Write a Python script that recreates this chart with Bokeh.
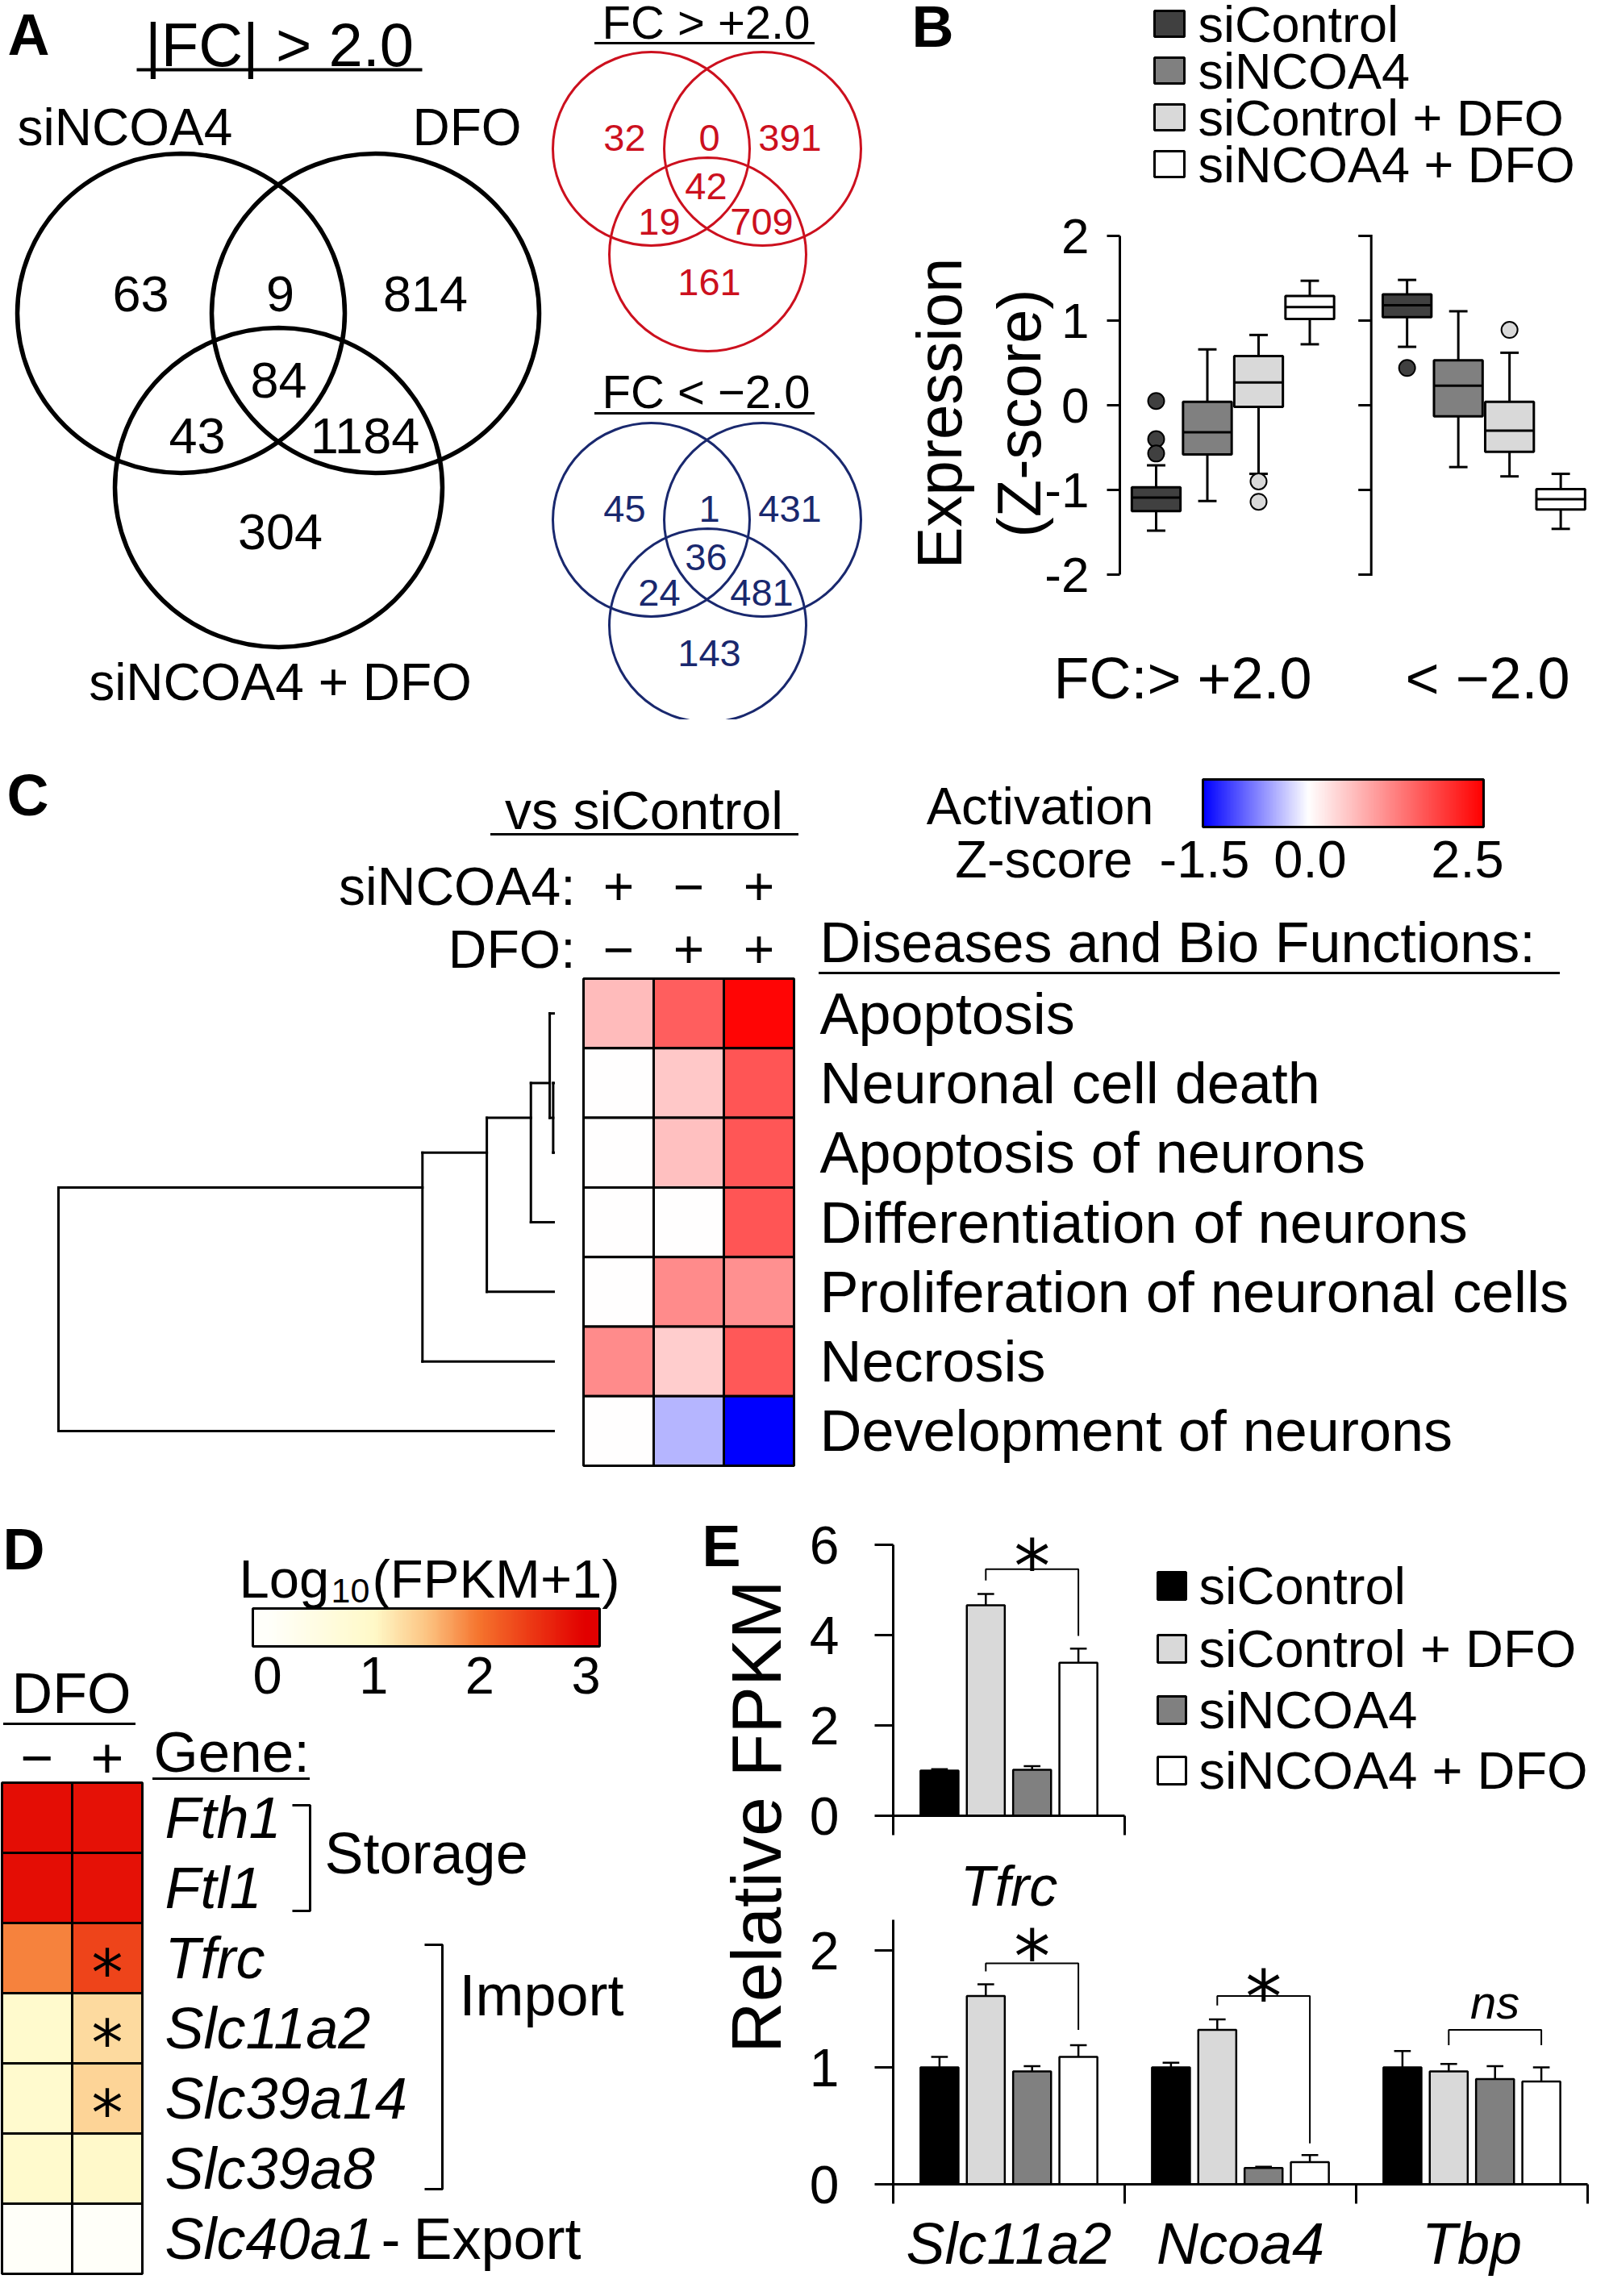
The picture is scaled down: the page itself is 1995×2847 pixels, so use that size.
import numpy as np
from bokeh.plotting import figure
from bokeh.layouts import row, column
from bokeh.models import Range1d, LinearAxis, FixedTicker, LinearColorMapper, ColumnDataSource
from bokeh.core.properties import value
from bokeh.transform import transform
from bokeh.embed import file_html
from bokeh.resources import INLINE

FONT = "Liberation Sans"
STAR_FONT = "DejaVu Sans"
MINUS = "\u2212"

# ======================= DATA =======================
venn_labels = ["siNCOA4", "DFO", "siNCOA4 + DFO"]
# region order: set1 only, 1&2, set2 only, 1&2&3, 1&3, 2&3, set3 only
venn_all = [63, 9, 814, 84, 43, 1184, 304]
venn_up = [32, 0, 391, 42, 19, 709, 161]
venn_down = [45, 1, 431, 36, 24, 481, 143]

b_groups = ["FC:> +2.0", "< " + MINUS + "2.0"]
b_conditions = ["siControl", "siNCOA4", "siControl + DFO", "siNCOA4 + DFO"]
b_colors = ["#404040", "#808080", "#d9d9d9", "#ffffff"]
b_whisker_lo = [-1.48, -1.13, -0.81, 0.72, 0.69, -0.73, -0.84, -1.46]
b_q1 = [-1.25, -0.58, -0.02, 1.02, 1.04, -0.13, -0.55, -1.23]
b_median = [-1.09, -0.32, 0.27, 1.16, 1.18, 0.23, -0.30, -1.11]
b_q3 = [-0.97, 0.04, 0.58, 1.29, 1.31, 0.53, 0.04, -0.99]
b_whisker_hi = [-0.71, 0.66, 0.83, 1.47, 1.48, 1.11, 0.62, -0.81]
b_outlier_box = [0, 0, 0, 2, 2, 4, 6]
b_outlier_value = [0.05, -0.40, -0.57, -0.90, -1.14, 0.44, 0.89]
b_yticks = [-2, -1, 0, 1, 2]

c_terms = ["Apoptosis", "Neuronal cell death", "Apoptosis of neurons",
           "Differentiation of neurons", "Proliferation of neuronal cells",
           "Necrosis", "Development of neurons"]
c_sincoa4 = ["+", MINUS, "+"]
c_dfo = [MINUS, "+", "+"]
c_zscore = [
    [0.66, 1.57, 2.45],
    [0.00, 0.54, 1.67],
    [0.00, 0.62, 1.65],
    [0.00, 0.00, 1.67],
    [0.00, 1.13, 1.08],
    [1.13, 0.49, 1.64],
    [0.00, -0.43, -1.50],
]
c_dendro_pairs = [(1, 2), (0, 7), (8, 3), (9, 4), (10, 5), (11, 6)]
c_dendro_height = [0.001, 0.008, 0.046, 0.135, 0.265, 1.0]
c_cbar_ticks = ["-1.5", "0.0", "2.5"]

d_genes = ["Fth1", "Ftl1", "Tfrc", "Slc11a2", "Slc39a14", "Slc39a8", "Slc40a1"]
d_dfo_minus = [2.88, 2.88, 1.90, 0.90, 0.88, 0.90, 0.02]
d_dfo_plus = [2.84, 2.84, 2.38, 1.30, 1.35, 0.95, 0.02]
d_significant = [False, False, True, True, True, False, False]
d_cbar_ticks = [0, 1, 2, 3]

e_conditions = ["siControl", "siControl + DFO", "siNCOA4", "siNCOA4 + DFO"]
e_colors = ["#000000", "#d9d9d9", "#808080", "#ffffff"]
e_top_genes = ["Tfrc"]
e_top_mean = [[1.00, 4.66, 1.02, 3.39]]
e_top_err = [[0.03, 0.25, 0.08, 0.31]]
e_bot_genes = ["Slc11a2", "Ncoa4", "Tbp"]
e_bot_mean = [[1.00, 1.61, 0.965, 1.09], [1.00, 1.32, 0.14, 0.19], [1.00, 0.965, 0.90, 0.88]]
e_bot_err = [[0.09, 0.10, 0.045, 0.10], [0.04, 0.09, 0.01, 0.06], [0.14, 0.065, 0.11, 0.12]]
# bracket between siControl+DFO and siNCOA4+DFO: (top, left leg end, right leg end, label, label y)
e_top_sig = [(5.46, 5.21, 3.98, "*", 5.88)]
e_bot_sig = [(1.89, 1.82, 1.32, "*", 2.08), (1.61, 1.53, 0.35, "*", 1.74), (1.32, 1.19, 1.19, "ns", 1.56)]


# ======================= HELPERS =======================
def canvas(x0, x1, y0, y1):
    p = figure(width=int(x1 - x0), height=int(y1 - y0),
               x_range=Range1d(x0, x1), y_range=Range1d(y1, y0),
               x_axis_type=None, y_axis_type=None, toolbar_location=None,
               output_backend="svg", min_border=0)
    p.outline_line_color = None
    return p


def txt(p, x, y, s, size, align="left", style="normal", color="black", angle=0.0,
        font=FONT, y_offset=0, baseline="middle"):
    p.text(x=[x], y=[y], text=[s], text_font=value(font), text_font_size=f"{size}px",
           text_align=align, text_baseline=baseline, text_font_style=style,
           text_color=color, angle=angle, y_offset=y_offset)


def seg(p, x0, y0, x1, y1, w=3, color="black"):
    p.segment(x0=x0, y0=y0, x1=x1, y1=y1, line_color=color, line_width=w, line_cap="square")


def make_palette(stops, lo, hi, n=256):
    vals = np.linspace(lo, hi, n)
    sv = [s[0] for s in stops]
    out = []
    for v in vals:
        r = np.interp(v, sv, [s[1][0] for s in stops])
        g = np.interp(v, sv, [s[1][1] for s in stops])
        b = np.interp(v, sv, [s[1][2] for s in stops])
        out.append("#%02x%02x%02x" % (int(round(r)), int(round(g)), int(round(b))))
    return out


# ======================= PANEL A =======================
pa = canvas(8, 680, 8, 900)
txt(pa, 17, 50, "A", 72, style="bold")
txt(pa, 354, 63, "|FC| > 2.0", 76, align="center")
seg(pa, [179], [94], [529], [94], w=4)
pa.ellipse(x=[232, 473, 353], y=[396, 396, 612], width=406, height=396,
           fill_color=None, line_color="black", line_width=5.5)
txt(pa, 29, 165, venn_labels[0], 64)
txt(pa, 654, 165, venn_labels[1], 64, align="right")
txt(pa, 355, 853, venn_labels[2], 64, align="center")
big_pos_x = [182, 355, 535, 353, 252, 460, 355]
big_pos_y = [372, 372, 372, 479, 548, 548, 667]
pa.text(x=big_pos_x, y=big_pos_y, text=[str(v) for v in venn_all], text_font=value(FONT),
        text_font_size="63px", text_align="center", text_baseline="middle")

# ======================= small Venns =======================
pv = canvas(680, 1100, 8, 900)
RED = "#cc101e"
BLUE = "#19286e"
small_dx = [-103, 2, 102, -2, -60, 67, 2]
small_dy = [-14, -14, -14, 46, 90, 90, 165]
for title, counts, col, cx0, cy0, ty, uy in [
        ("FC > +2.0", venn_up, RED, 885, 192, 35, 61),
        ("FC < " + MINUS + "2.0", venn_down, BLUE, 885, 652, 493, 520)]:
    txt(pv, 883, ty, title, 58, align="center")
    seg(pv, [746], [uy], [1016], [uy], w=3)
    pv.ellipse(x=[cx0 - 70, cx0 + 68, cx0], y=[cy0, cy0, cy0 + 131], width=244, height=240,
               fill_color=None, line_color=col, line_width=3)
    pv.text(x=[cx0 + d for d in small_dx], y=[cy0 + d for d in small_dy],
            text=[str(v) for v in counts], text_font=value(FONT), text_font_size="47px",
            text_align="center", text_baseline="middle", text_color=col)

# ======================= PANEL B =======================
B_SPLIT = 250
pbh = canvas(1100, 1987, 8, B_SPLIT)
txt(pbh, 1138, 40, "B", 72, style="bold")
leg_y = [37, 95, 153, 211]
pbh.quad(left=[1439] * 4, right=[1476] * 4, top=[y - 16 for y in leg_y], bottom=[y + 16 for y in leg_y],
         fill_color=b_colors, line_color="black", line_width=3)
pbh.text(x=[1493] * 4, y=leg_y, text=b_conditions, text_font=value(FONT), text_font_size="63px",
         text_align="left", text_baseline="middle")

B_UNIT = 63.5
pbm = figure(width=887, height=790 - B_SPLIT, x_range=Range1d(0.2913, 0.2913 + 591 / B_UNIT),
             y_range=Range1d(-280 / 105, (510 - B_SPLIT) / 105),
             x_axis_type=None, y_axis_type=None, toolbar_location=None, output_backend="svg",
             min_border_left=296, min_border_right=0, min_border_top=0, min_border_bottom=0)
pbm.outline_line_color = None
bx = [1 + k + 4.9 * g for g in range(2) for k in range(4)]
bcol = b_colors * 2
src = ColumnDataSource(dict(x=bx, lo=b_whisker_lo, q1=b_q1, med=b_median, q3=b_q3, hi=b_whisker_hi, c=bcol))
pbm.segment(x0="x", y0="q3", x1="x", y1="hi", source=src, line_width=3, line_color="black")
pbm.segment(x0="x", y0="lo", x1="x", y1="q1", source=src, line_width=3, line_color="black")
capw = 0.18
pbm.segment(x0=[x - capw for x in bx], y0=b_whisker_hi, x1=[x + capw for x in bx], y1=b_whisker_hi,
            line_width=3, line_color="black")
pbm.segment(x0=[x - capw for x in bx], y0=b_whisker_lo, x1=[x + capw for x in bx], y1=b_whisker_lo,
            line_width=3, line_color="black")
pbm.vbar(x="x", bottom="q1", top="q3", width=0.95, fill_color="c", line_color="black",
         line_width=3, source=src)
pbm.segment(x0=[x - 0.475 for x in bx], y0=b_median, x1=[x + 0.475 for x in bx], y1=b_median,
            line_width=3, line_color="black")
pbm.scatter(x=[bx[i] for i in b_outlier_box], y=b_outlier_value, size=20, marker="circle",
            fill_color=[bcol[i] for i in b_outlier_box], line_color="black", line_width=2)
# axis of the second group (no labels)
ax2x = 5.2
seg(pbm, [ax2x], [-2], [ax2x], [2], w=3)
pbm.segment(x0=[ax2x - 16 / B_UNIT] * 5, y0=b_yticks, x1=[ax2x] * 5, y1=b_yticks, line_width=3,
            line_color="black")
yax = LinearAxis(ticker=FixedTicker(ticks=b_yticks, minor_ticks=[]), bounds=(-2, 2),
                 major_label_overrides={t: str(t) for t in b_yticks},
                 major_tick_out=16, major_tick_in=0, minor_tick_out=0, minor_tick_in=0,
                 axis_line_width=3, major_tick_line_width=3,
                 axis_line_color="black", major_tick_line_color="black",
                 major_label_text_color="black", axis_label_text_color="black",
                 major_label_text_font=FONT, major_label_text_font_size="62px",
                 major_label_standoff=22,
                 axis_label="(Z-score)", axis_label_text_font=FONT, axis_label_text_font_size="76px",
                 axis_label_text_font_style="normal", axis_label_standoff=-14)
pbm.add_layout(yax, "left")
yax2 = LinearAxis(ticker=FixedTicker(ticks=[], minor_ticks=[]), bounds=(-2, 2),
                  axis_line_color=None, major_tick_line_color=None, minor_tick_line_color=None,
                  major_tick_out=0, minor_tick_out=0, axis_label_text_color="black",
                  axis_label="Expression", axis_label_text_font=FONT, axis_label_text_font_size="78px",
                  axis_label_text_font_style="normal", axis_label_standoff=10)
pbm.add_layout(yax2, "left")

pbf = canvas(1100, 1987, 790, 900)
txt(pbf, 1474, 848, b_groups[0], 72, align="center")
txt(pbf, 1852, 848, b_groups[1], 72, align="center")

# ======================= PANEL C =======================
pc = canvas(8, 1987, 900, 1840)
txt(pc, 16, 993, "C", 72, style="bold")
txt(pc, 806, 1012, "vs siControl", 66, align="center")
seg(pc, [617], [1042], [996], [1042], w=3)
txt(pc, 721, 1106, "siNCOA4:", 66, align="right")
txt(pc, 721, 1184, "DFO:", 66, align="right")
hx0, hy0, cw, ch = 731, 1221, 87, 86.3
col_cx = [hx0 + cw * (j + 0.5) for j in range(3)]
pc.text(x=col_cx, y=[1106] * 3, text=c_sincoa4, text_font=value(FONT), text_font_size="66px",
        text_align="center", text_baseline="middle")
pc.text(x=col_cx, y=[1184] * 3, text=c_dfo, text_font=value(FONT), text_font_size="66px",
        text_align="center", text_baseline="middle")
txt(pc, 1024, 1176, "Diseases and Bio Functions:", 70)
seg(pc, [1024], [1214], [1940], [1214], w=3)
c_mapper = LinearColorMapper(palette=make_palette([(-1.5, (0, 0, 255)), (0, (255, 255, 255)),
                                                   (2.5, (255, 0, 0))], -1.5, 2.5),
                             low=-1.5, high=2.5)
cx_l, cy_l, cz_l = [], [], []
for i, rowv in enumerate(c_zscore):
    for j, z in enumerate(rowv):
        cx_l.append(col_cx[j])
        cy_l.append(hy0 + ch * (i + 0.5))
        cz_l.append(z)
pc.rect(x="x", y="y", width=cw, height=ch, source=ColumnDataSource(dict(x=cx_l, y=cy_l, z=cz_l)),
        fill_color=transform("z", c_mapper), line_color="black", line_width=3)
row_cy = [hy0 + ch * (i + 0.5) for i in range(len(c_terms))]
pc.text(x=[1024] * len(c_terms), y=row_cy, text=c_terms, text_font=value(FONT), text_font_size="72px",
        text_align="left", text_baseline="middle")
# dendrogram
leaf_x, dwidth = 694, 614
leaves = {i: [i] for i in range(len(c_terms))}
height = {i: 0.0 for i in range(len(c_terms))}
dx0, dy0, dx1, dy1 = [], [], [], []
for k, ((a, b), h) in enumerate(zip(c_dendro_pairs, c_dendro_height)):
    nid = len(c_terms) + k
    leaves[nid] = leaves[a] + leaves[b]
    height[nid] = h
    xn = leaf_x - h * dwidth
    ya = hy0 + ch * (np.mean(leaves[a]) + 0.5)
    yb = hy0 + ch * (np.mean(leaves[b]) + 0.5)
    dx0 += [xn, leaf_x - height[a] * dwidth, leaf_x - height[b] * dwidth]
    dy0 += [ya, ya, yb]
    dx1 += [xn, xn, xn]
    dy1 += [yb, ya, yb]
pc.segment(x0=dx0, y0=dy0, x1=dx1, y1=dy1, line_color="black", line_width=3, line_cap="square")
# colour bar
cb_x0, cb_x1, cb_y0, cb_y1 = 1499, 1847, 974, 1033
pc.image(image=[np.linspace(-1.5, 2.5, 256)[None, :]], x=cb_x0, y=cb_y0, dw=cb_x1 - cb_x0,
         dh=cb_y1 - cb_y0, color_mapper=c_mapper)
pc.quad(left=[cb_x0], right=[cb_x1], top=[cb_y0], bottom=[cb_y1], fill_color=None,
        line_color="black", line_width=3)
txt(pc, 1438, 1007, "Activation", 65, align="right")
txt(pc, 1412, 1073, "Z-score", 65, align="right")
pc.text(x=[1501, 1632, 1827], y=[1073] * 3, text=c_cbar_ticks, text_font=value(FONT),
        text_font_size="65px", text_align="center", text_baseline="middle")

# ======================= PANEL D =======================
pd = canvas(8, 870, 1840, 2839)
txt(pd, 11, 1928, "D", 72, style="bold")
txt(pd, 304, 1965, "Log", 67)
txt(pd, 418, 1980, "10", 43)
txt(pd, 469, 1965, "(FPKM+1)", 67)
d_mapper = LinearColorMapper(palette=make_palette([(0, (255, 255, 250)), (1.0, (255, 249, 200)),
                                                   (1.5, (252, 196, 130)), (2.0, (245, 115, 45)),
                                                   (2.5, (236, 55, 20)), (3.0, (226, 0, 0))], 0, 3),
                             low=0, high=3)
dcb = lambda v: 339 + 131.7 * v
d_lo, d_hi = (321 - 339) / 131.7, (751 - 339) / 131.7
pd.image(image=[np.linspace(d_lo, d_hi, 256)[None, :]], x=321, y=2002, dw=430, dh=47, color_mapper=d_mapper)
pd.quad(left=[321], right=[751], top=[2002], bottom=[2049], fill_color=None, line_color="black", line_width=3)
pd.text(x=[dcb(v) for v in d_cbar_ticks], y=[2085] * 4, text=[str(v) for v in d_cbar_ticks],
        text_font=value(FONT), text_font_size="65px", text_align="center", text_baseline="middle")
txt(pd, 96, 2107, "DFO", 70, align="center")
seg(pd, [13], [2145], [174], [2145], w=3)
dcx0, dcw, dcy0, dch = 10, 87, 2218, 87
d_colx = [dcx0 + dcw * (j + 0.5) for j in range(2)]
pd.text(x=d_colx, y=[2187] * 2, text=[MINUS, "+"], text_font=value(FONT), text_font_size="70px",
        text_align="center", text_baseline="middle")
txt(pd, 198, 2180, "Gene:", 71)
seg(pd, [198], [2213], [390], [2213], w=3)
hx, hy, hv = [], [], []
for i in range(len(d_genes)):
    for j, vals in enumerate([d_dfo_minus, d_dfo_plus]):
        hx.append(d_colx[j])
        hy.append(dcy0 + dch * (i + 0.5))
        hv.append(vals[i])
pd.rect(x="x", y="y", width=dcw, height=dch, source=ColumnDataSource(dict(x=hx, y=hy, v=hv)),
        fill_color=transform("v", d_mapper), line_color="black", line_width=3)
d_rowy = [dcy0 + dch * (i + 0.5) for i in range(len(d_genes))]
for i, sig in enumerate(d_significant):
    if sig:
        txt(pd, d_colx[1], d_rowy[i], "*", 78, align="center", font=STAR_FONT, y_offset=18)
pd.text(x=[212] * len(d_genes), y=d_rowy, text=d_genes, text_font=value(FONT), text_font_size="72px",
        text_font_style="italic", text_align="left", text_baseline="middle")
pd.multi_line(xs=[[370, 392, 392, 370], [534, 556, 556, 534]],
              ys=[[2246, 2246, 2377, 2377], [2419, 2419, 2722, 2722]], line_color="black", line_width=3)
txt(pd, 410, 2305, "Storage", 72)
txt(pd, 577, 2481, "Import", 72)
txt(pd, 492, d_rowy[6], "-", 72, align="center")
txt(pd, 520, d_rowy[6], "Export", 72)

# ======================= PANEL E =======================
pel = canvas(870, 1000, 1840, 2839)
txt(pel, 878, 1924, "E", 72, style="bold")
txt(pel, 945, 2260, "Relative FPKM", 88, align="center", angle=np.pi / 2)

e_offsets = [0.2, 0.4, 0.6, 0.8]
E_BAR_W = 0.164


def draw_bars(p, means, errs, sigs):
    xs, tops, cols, ets = [], [], [], []
    for g, (m, e) in enumerate(zip(means, errs)):
        for k in range(4):
            xs.append(g + e_offsets[k])
            tops.append(m[k])
            ets.append(m[k] + e[k])
            cols.append(e_colors[k])
    p.segment(x0=xs, y0=tops, x1=xs, y1=ets, line_color="black", line_width=2.5)
    p.segment(x0=[x - 0.036 for x in xs], y0=ets, x1=[x + 0.036 for x in xs], y1=ets,
              line_color="black", line_width=2.5)
    p.vbar(x=xs, top=tops, bottom=0, width=E_BAR_W, fill_color=cols, line_color="black", line_width=2.5)
    for g, (top, lleg, rleg, lab, ly) in enumerate(sigs):
        xl, xm, xr = g + e_offsets[1], g + e_offsets[2], g + e_offsets[3]
        p.line(x=[xl, xl, xr, xr], y=[lleg, top, top, rleg], line_color="black", line_width=2)
        if lab == "*":
            txt(p, xm, ly, lab, 90, align="center", font=STAR_FONT, y_offset=20)
        else:
            txt(p, xm, ly, lab, 58, align="center", style="italic")


def e_axes(p, yticks, ybound, ngenes, genes, standoff, lab_size):
    ya = LinearAxis(ticker=FixedTicker(ticks=yticks, minor_ticks=[]), bounds=(0, ybound),
                    major_tick_out=23, major_tick_in=0, minor_tick_out=0, minor_tick_in=0,
                    axis_line_width=3, major_tick_line_width=3,
                    axis_line_color="black", major_tick_line_color="black",
                    major_label_text_color="black",
                    major_label_text_font=FONT, major_label_text_font_size="66px",
                    major_label_standoff=44)
    p.add_layout(ya, "left")
    xa = LinearAxis(ticker=FixedTicker(ticks=[g + 0.5 for g in range(ngenes)],
                                       minor_ticks=list(range(ngenes + 1))),
                    bounds=(0, ngenes), major_tick_out=0, major_tick_in=0,
                    minor_tick_out=24, minor_tick_in=0, minor_tick_line_width=3,
                    minor_tick_line_color="black", axis_line_color="black",
                    axis_line_width=3, major_label_text_color="black",
                    major_label_overrides={g + 0.5: genes[g] for g in range(ngenes)},
                    major_label_text_font=FONT, major_label_text_font_size=f"{lab_size}px",
                    major_label_text_font_style="italic", major_label_standoff=standoff)
    p.add_layout(xa, "below")


E1_H = 548
pe1 = figure(width=420, height=E1_H, x_range=Range1d(0, 1), y_range=Range1d(0, 419 / 56),
             x_axis_type=None, y_axis_type=None, toolbar_location=None, output_backend="svg",
             min_border_left=115, min_border_right=18, min_border_top=0, min_border_bottom=E1_H - 419)
pe1.outline_line_color = None
draw_bars(pe1, e_top_mean, e_top_err, e_top_sig)
e_axes(pe1, [0, 2, 4, 6], 6, 1, e_top_genes, 24, 70)

pelg = canvas(1420, 1987, 1840, 1840 + E1_H)
eleg_y = [1974, 2052, 2128, 2203]
pelg.quad(left=[1443] * 4, right=[1478] * 4, top=[y - 17 for y in eleg_y], bottom=[y + 17 for y in eleg_y],
          fill_color=e_colors, line_color="black", line_width=3)
pelg.text(x=[1494] * 4, y=eleg_y, text=e_conditions, text_font=value(FONT), text_font_size="65px",
          text_align="left", text_baseline="middle")

E2_TOP = 1840 + E1_H
pe2 = figure(width=987, height=2839 - E2_TOP, x_range=Range1d(0, 3), y_range=Range1d(0, (2716 - E2_TOP) / 145),
             x_axis_type=None, y_axis_type=None, toolbar_location=None, output_backend="svg",
             min_border_left=115, min_border_right=11, min_border_top=0, min_border_bottom=123)
pe2.outline_line_color = None
draw_bars(pe2, e_bot_mean, e_bot_err, e_bot_sig)
e_axes(pe2, [0, 1, 2], 2.3, 3, e_bot_genes, 9, 72)

# ======================= LAYOUT =======================
# each figure is wrapped so that no two figures with different borders share a container
row1 = row(pa, pv, column(row(pbh), pbm, row(pbf)))
row3 = row(pd, pel, column(row(pe1, row(pelg)), pe2))
layout = column(row1, pc, row3)

open("out.html", "w").write(file_html(layout, INLINE, title="Figure"))
